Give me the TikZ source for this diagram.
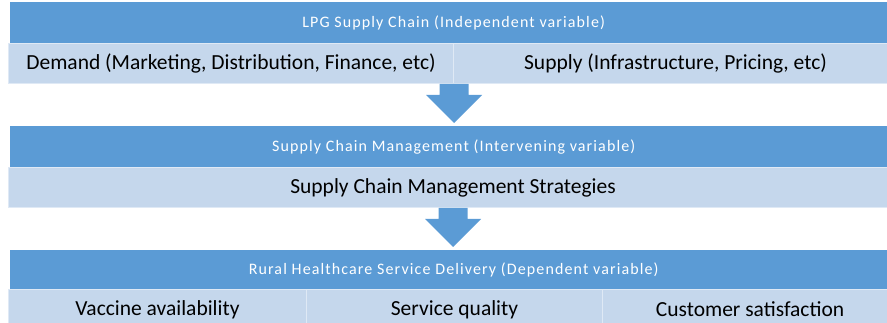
\documentclass[tikz,border=0pt]{standalone}
\usepackage{fontspec}
\setmainfont{Carlito}
\newfontfamily\headfont[LetterSpace=7]{Carlito}
\definecolor{headblue}{RGB}{91,155,213}
\definecolor{paleblue}{RGB}{197,215,236}
\tikzset{
  head/.style={fill=headblue, text=white, anchor=north west, minimum height=41pt,
    inner sep=0pt, font=\headfont\fontsize{16}{19}\selectfont},
  cell/.style={fill=paleblue, draw=white!45!paleblue, line width=1pt, anchor=north west,
    minimum height=40pt, inner sep=0pt, font=\fontsize{21.5}{25}\selectfont},
}
\begin{document}
\begin{tikzpicture}[x=1pt,y=-1pt]
    \def\sw{14.5pt}
    \def\hw{28pt}
    \def\hd{28pt}
    \useasboundingbox (0,0) rectangle (887,323);
    \clip (0,0) rectangle (887,323);

    % independent variable
    \node[head, minimum width=887pt] (lpg) at (10,2) {LPG Supply Chain (Independent variable)};
    \node[cell, minimum width=445pt] (demand) at (8,43) {Demand (Marketing, Distribution, Finance, etc)};
    \node[cell, minimum width=444pt] (supply) at (453,43) {Supply (Infrastructure, Pricing, etc)};

    % intervening variable
    \node[head, minimum width=887pt] (scm) at (10,126) {Supply Chain Management (Intervening variable)};
    \node[cell, minimum width=889pt] (strat) at (8,167) {Supply Chain Management Strategies};

    % dependent variable
    \node[head, minimum width=887pt, minimum height=39pt] (rural) at (10,250) {Rural Healthcare Service Delivery (Dependent variable)};
    \node[cell, minimum width=298pt] (vaccine) at (8,289) {Vaccine availability};
    \node[cell, minimum width=296pt] (quality) at (306,289) {Service quality};
    \node[cell, minimum width=295pt] (satisf) at (602,289) {Customer satisfaction};

    % block arrows
    \foreach \src/\dst in {demand.south east/scm, strat.south/rural} {
      \path (\src |- \dst.north) ++(0,-3) coordinate (tip);
      \fill[headblue] ([xshift=-\sw]\src) -- ([xshift=\sw]\src)
        -- ([xshift=\sw,yshift=\hd]tip) -- ([xshift=\hw,yshift=\hd]tip) -- (tip)
        -- ([xshift=-\hw,yshift=\hd]tip) -- ([xshift=-\sw,yshift=\hd]tip) -- cycle;
    }
\end{tikzpicture}
\end{document}
